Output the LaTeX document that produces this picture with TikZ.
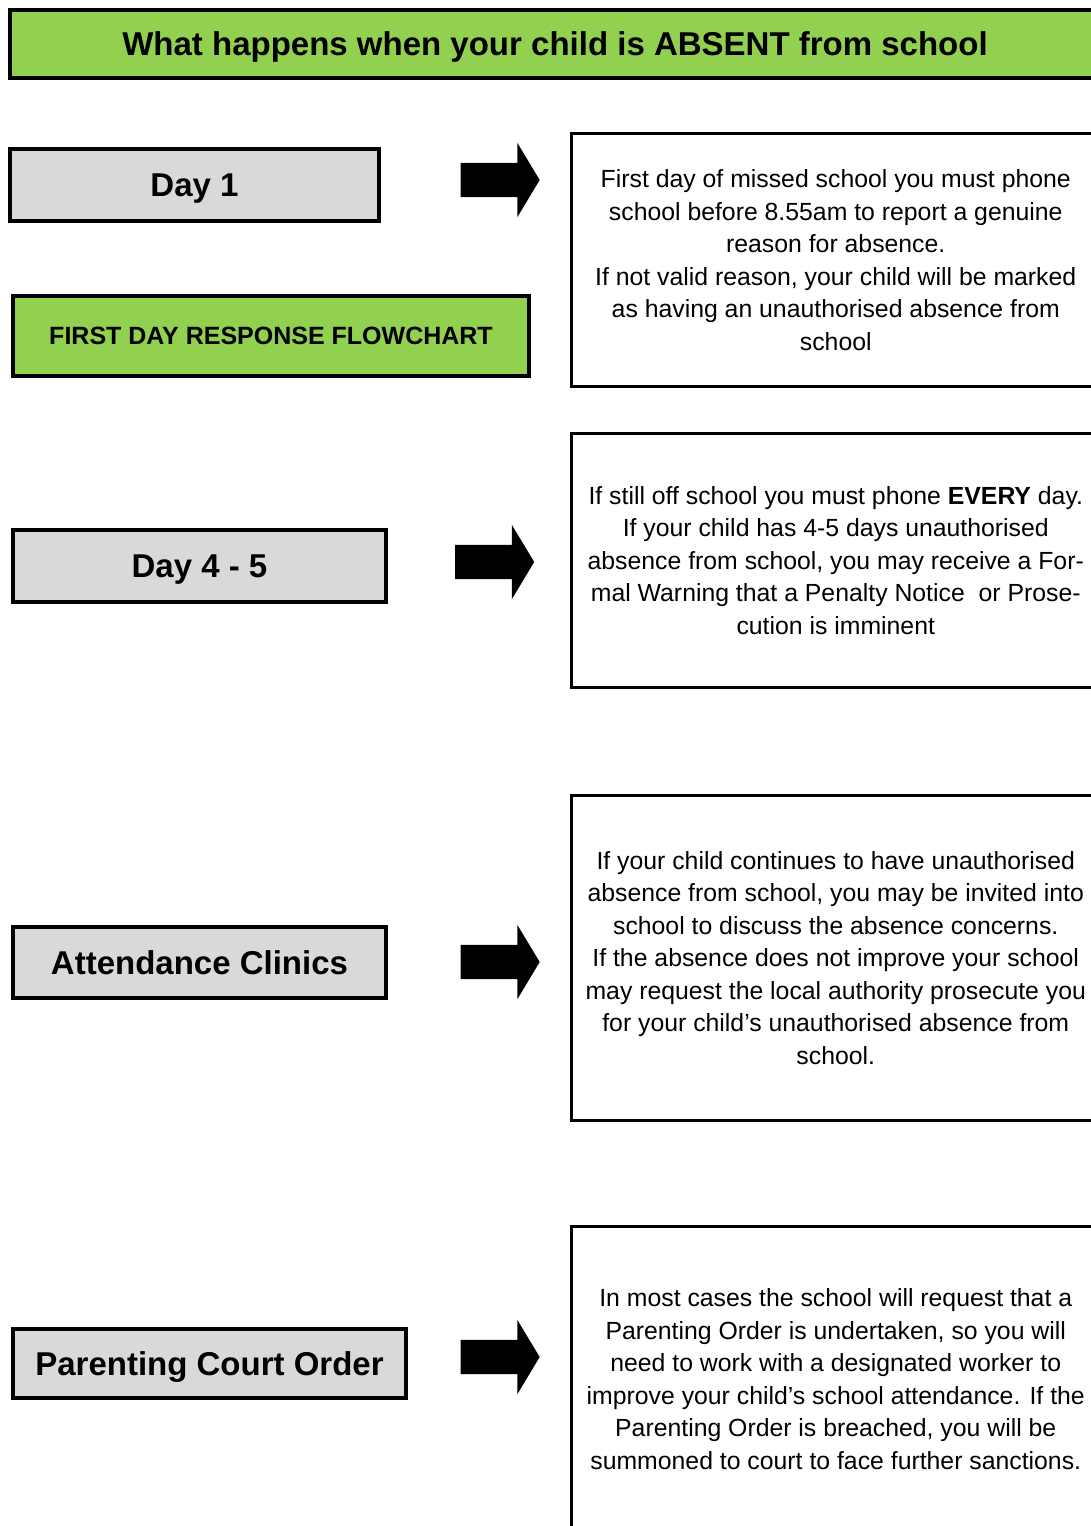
\documentclass[tikz,border=0pt]{standalone}
\usepackage{fontspec}
\setmainfont{Liberation Sans}
\usetikzlibrary{shapes.arrows}
\definecolor{headgreen}{RGB}{146,208,80}
\definecolor{daygrey}{RGB}{217,217,217}

\begin{document}
\begin{tikzpicture}[x=1pt,y=-1pt,
  greenbox/.style={draw, line width=4pt, fill=headgreen, inner sep=0pt, text depth=0pt},
  daybox/.style={draw, line width=3.5pt, fill=daygrey, inner sep=0pt, text depth=0pt, font=\bfseries\fontsize{33}{40}\selectfont},
  infobox/.style={draw, line width=3pt, inner sep=0pt, align=center, font=\fontsize{24.8}{32.5}\selectfont},
  blockarrow/.style={single arrow, fill=black, inner sep=17pt, minimum height=79pt, single arrow head extend=20pt, single arrow tip angle=118}]
\clip (0,0) rectangle (1091,1526);
\fill[white] (0,0) rectangle (1091,1526);

\node[greenbox, minimum width=1090pt, minimum height=68pt, font=\bfseries\fontsize{33}{40}\selectfont] (title) at (555,44) {What happens when your child is ABSENT from school};

\node[daybox, minimum width=369pt, minimum height=72pt] (day1) at (194.5,185) {Day 1};
\node[greenbox, line width=3.5pt, minimum width=516pt, minimum height=80pt, font=\bfseries\fontsize{25}{30}\selectfont] (firstday) at (271,336) {FIRST DAY RESPONSE FLOWCHART};
\node[daybox, minimum width=373pt, minimum height=72pt] (day45) at (199.5,566) {Day 4 - 5};
\node[daybox, minimum width=373pt, minimum height=71pt] (clinics) at (199.5,962.5) {Attendance Clinics};
\node[daybox, minimum width=393pt, minimum height=69pt] (court) at (209.5,1363.5) {Parenting Court Order};

\node[blockarrow] (arr1) at (495,180) {};
\node[blockarrow] (arr2) at (489.5,562) {};
\node[blockarrow] (arr3) at (495,962) {};
\node[blockarrow] (arr4) at (495,1357) {};

\node[infobox, minimum width=528.5pt, minimum height=253pt] (info1) at (835.75,260) {First day of missed school you must phone\\school before 8.55am to report a genuine\\reason for absence.\\If not valid reason, your child will be marked\\as having an unauthorised absence from\\school};
\node[infobox, minimum width=528.5pt, minimum height=254pt] (info2) at (835.75,560.5) {If still off school you must phone \textbf{EVERY} day.\\If your child has 4-5 days unauthorised\\absence from school, you may receive a For-\\mal Warning that a Penalty Notice\ \ or Prose-\\cution is imminent};
\node[infobox, minimum width=528.5pt, minimum height=325pt] (info3) at (835.75,958) {If your child continues to have unauthorised\\absence from school, you may be invited into\\school to discuss the absence concerns.\\If the absence does not improve your school\\may request the local authority prosecute you\\for your child’s unauthorised absence from\\school.};
\node[infobox, minimum width=528.5pt, minimum height=305pt] (info4) at (835.75,1379) {In most cases the school will request that a\\Parenting Order is undertaken, so you will\\need to work with a designated worker to\\improve your child’s school attendance. If the\\Parenting Order is breached, you will be\\summoned to court to face further sanctions.};
\end{tikzpicture}
\end{document}
